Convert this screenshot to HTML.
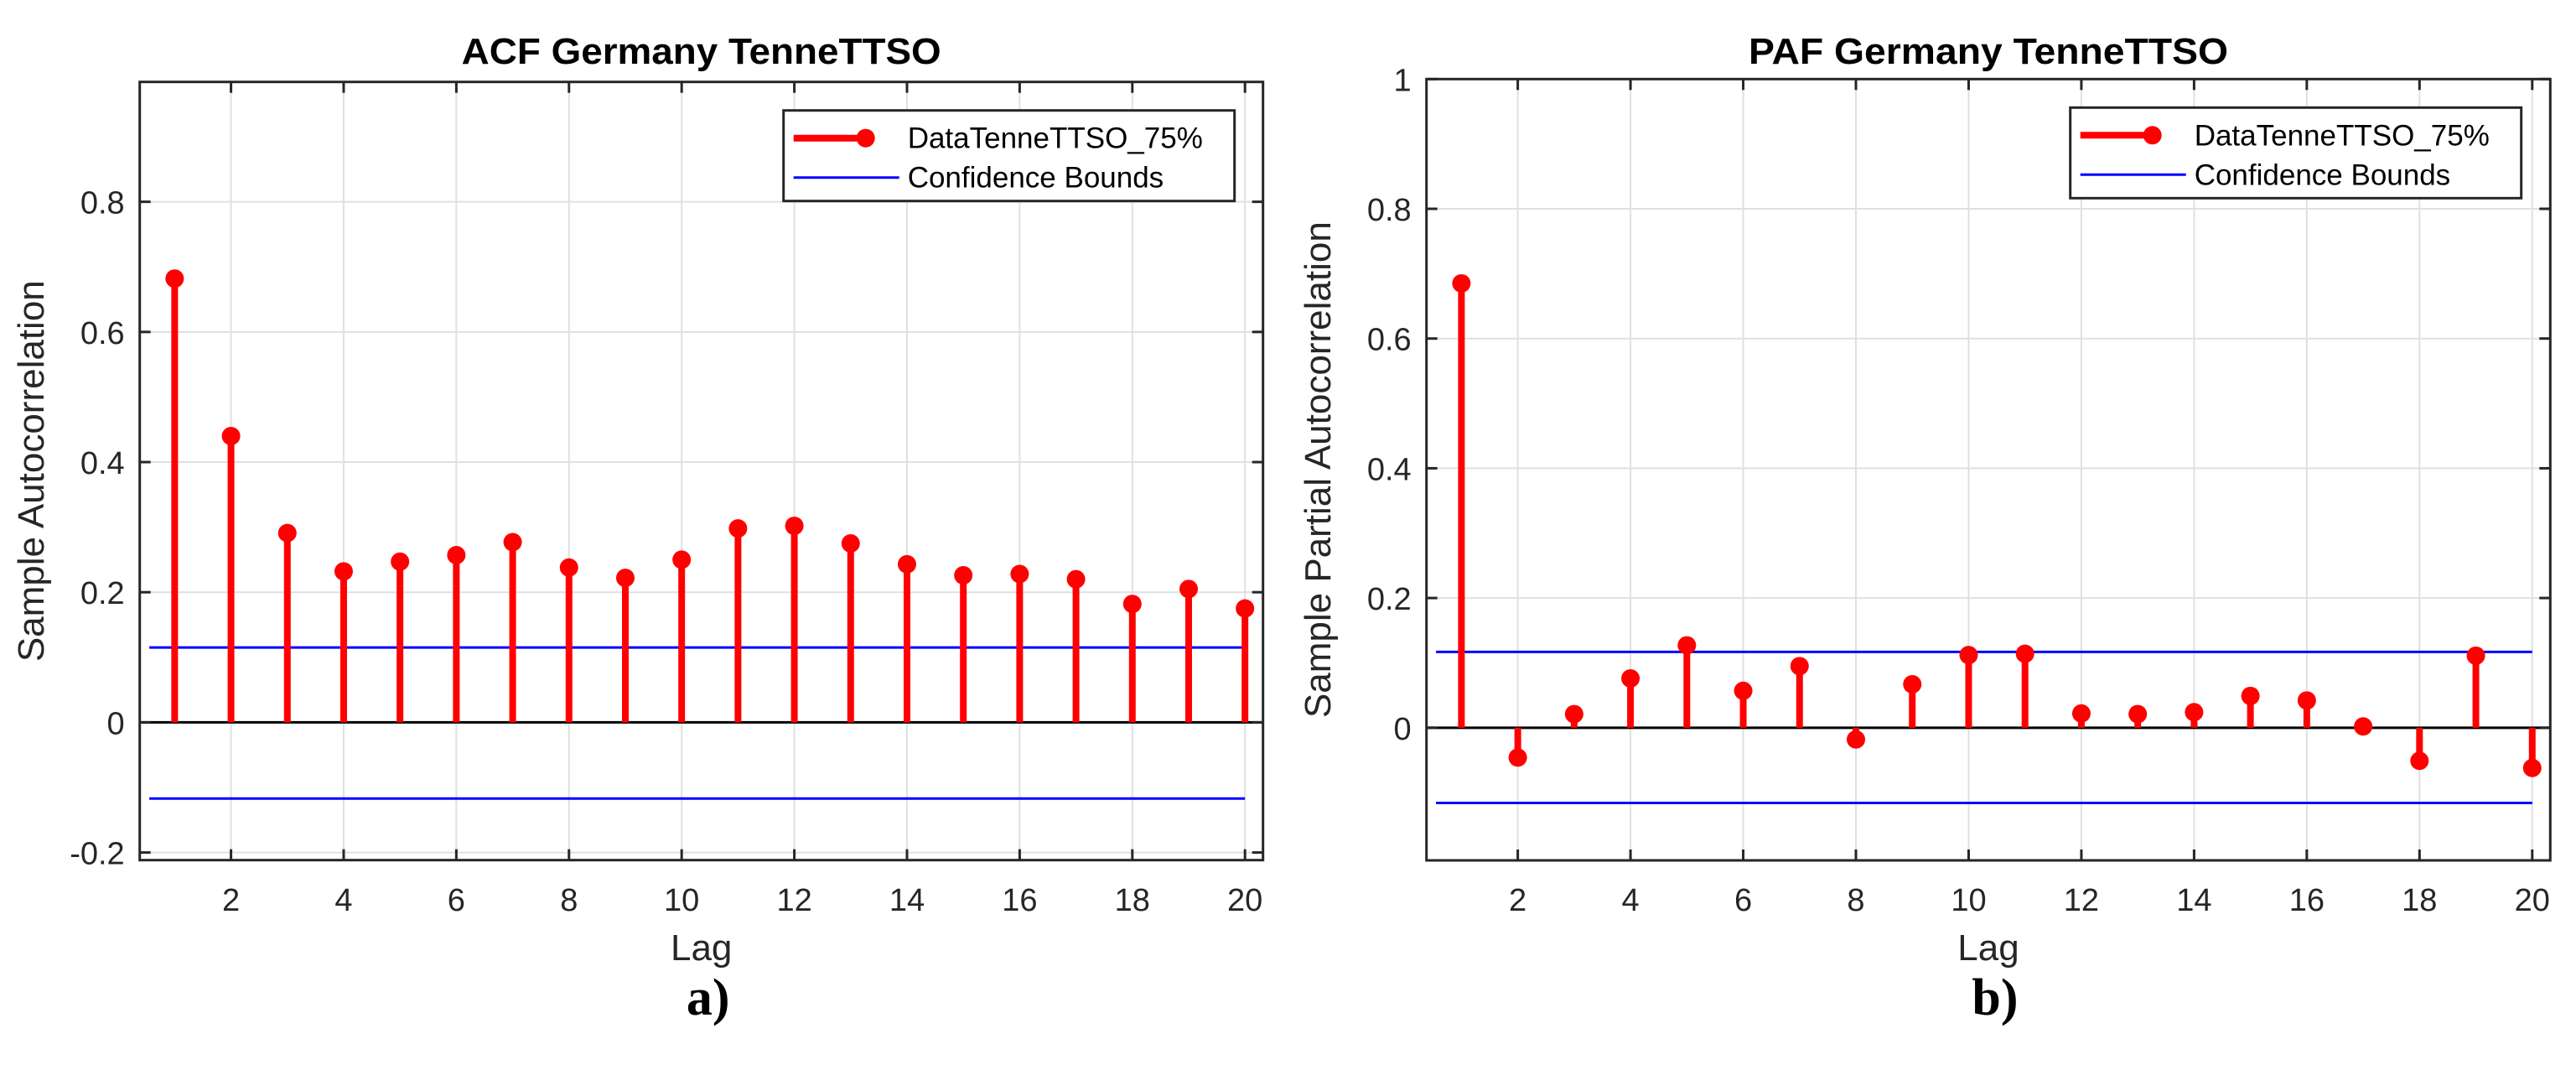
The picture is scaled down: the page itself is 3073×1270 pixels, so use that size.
<!DOCTYPE html>
<html><head><meta charset="utf-8"><style>
html,body{margin:0;padding:0;background:#fff;}
svg{display:block;}
text{font-family:"Liberation Sans",sans-serif;}
</style></head>
<body>
<svg id="fig" width="3073" height="1270" viewBox="0 0 3073 1270" xmlns="http://www.w3.org/2000/svg"></svg>
<script>
const lags = [1,2,3,4,5,6,7,8,9,10,11,12,13,14,15,16,17,18,19,20];
const acfValues = [0.682,0.440,0.291,0.232,0.247,0.257,0.277,0.238,0.222,0.250,0.298,0.302,0.275,0.243,0.226,0.228,0.220,0.182,0.205,0.175];
const pacfValues = [0.685,-0.046,0.021,0.076,0.127,0.057,0.095,-0.018,0.067,0.112,0.114,0.022,0.021,0.024,0.049,0.042,0.002,-0.051,0.111,-0.062];
const acfBound = [0.115,-0.117];
const pacfBound = [0.117,-0.116];
const xTickLabels = [2,4,6,8,10,12,14,16,18,20];
const acfYTicks = [-0.2,0,0.2,0.4,0.6,0.8];
const pacfYTicks = [0,0.2,0.4,0.6,0.8,1];

const NS = "http://www.w3.org/2000/svg";
const svg = document.getElementById('fig');
function mk(tag, attrs, parent, txt){
  const e = document.createElementNS(NS, tag);
  for (const k in attrs) e.setAttribute(k, attrs[k]);
  if (txt !== undefined) e.textContent = txt;
  (parent||svg).appendChild(e);
  return e;
}

function drawPanel(cfg){
  const g = mk('g', {});
  
  
  const L = cfg.left, R = cfg.right, T = cfg.top, B = cfg.bottom;
  const xmin = 0.38, xmax = 20.32;
  const X = v => L + (v - xmin) / (xmax - xmin) * (R - L);
  const Y = v => T + (cfg.ymax - v) / (cfg.ymax - cfg.ymin) * (B - T);

  // grid
  xTickLabels.forEach(t => {
    const gl = mk('line', {x1:X(t), x2:X(t), y1:T, y2:B, stroke:'#e0e0e0', 'stroke-width':2}, g);
    
    
  });
  cfg.yTicks.forEach(t => {
    const gl = mk('line', {x1:L, x2:R, y1:Y(t), y2:Y(t), stroke:'#e0e0e0', 'stroke-width':2}, g);
    
    
  });

  // confidence bounds
  cfg.bound.forEach(b => {
    const bl = mk('line', {x1:X(0.55), x2:X(20), y1:Y(b), y2:Y(b), stroke:'#0000ff', 'stroke-width':3}, g);
    
    
  });

  // zero line
  const z = mk('line', {x1:L, x2:R, y1:Y(0), y2:Y(0), stroke:'#000', 'stroke-width':3}, g);
  
  

  // stems
  cfg.values.forEach((v, i) => {
    const x = X(lags[i]);
    const s = mk('line', {x1:x, x2:x, y1:Y(0), y2:Y(v), stroke:'#ff0000', 'stroke-width':8}, g);
    
    
    const c = mk('circle', {cx:x, cy:Y(v), r:11, fill:'#ff0000'}, g);
    
    
  });

  // box
  const box = mk('rect', {x:L, y:T, width:R-L, height:B-T, fill:'none', stroke:'#262626', 'stroke-width':3}, g);
  
  

  // ticks
  xTickLabels.forEach(t => {
    mk('line', {x1:X(t), x2:X(t), y1:B, y2:B-13, stroke:'#262626', 'stroke-width':3}, g);
    mk('line', {x1:X(t), x2:X(t), y1:T, y2:T+13, stroke:'#262626', 'stroke-width':3}, g);
    const tl = mk('text', {x:X(t), y:1086, 'font-size':38, 'text-anchor':'middle', fill:'#262626'}, g, String(t));
    
    
  });
  cfg.yTicks.forEach(t => {
    mk('line', {x1:L, x2:L+13, y1:Y(t), y2:Y(t), stroke:'#262626', 'stroke-width':3}, g);
    mk('line', {x1:R, x2:R-13, y1:Y(t), y2:Y(t), stroke:'#262626', 'stroke-width':3}, g);
    const lab = (t === 0 || t === 1) ? String(t) : (t < 0 ? '-' + String(Math.abs(t)).replace(/^0/, '0') : String(t));
    const tl = mk('text', {x:L-18, y:Y(t)+14, 'font-size':38, 'text-anchor':'end', fill:'#262626'}, g, lab);
    
    
  });

  // title
  const cx = (L + R) / 2;
  const ti = mk('text', {x:cx, y:76, 'font-size':44, 'font-weight':'bold', 'text-anchor':'middle', fill:'#000', textLength:572, lengthAdjust:'spacingAndGlyphs'}, g, cfg.title);
  
  

  // x label
  const xl = mk('text', {x:cx, y:1145, 'font-size':44, 'text-anchor':'middle', fill:'#262626'}, g, 'Lag');
  
  

  // y label
  const ymid = (T + B) / 2;
  const yl = mk('text', {x:cfg.ylabX, y:ymid, 'font-size':44, 'text-anchor':'middle', fill:'#262626', transform:'rotate(-90 ' + cfg.ylabX + ' ' + ymid + ')'}, g, cfg.ylabel);
  
  

  // panel label
  const pl = mk('text', {x:cx+8, y:1210, 'font-size':62, 'font-weight':'bold', 'text-anchor':'middle', fill:'#000', style:'font-family:"Liberation Serif",serif'}, g, cfg.panel);
  
  

  // legend
  const lx = L + 768, ly = T + 34;
  const lg = mk('g', {}, g);
  
  
  mk('rect', {x:lx, y:ly, width:538, height:108, fill:'#fff', stroke:'#262626', 'stroke-width':3}, lg);
  const e1 = mk('g', {}, lg);
  
  
  mk('line', {x1:lx+12, x2:lx+98, y1:ly+33, y2:ly+33, stroke:'#ff0000', 'stroke-width':8}, e1);
  mk('circle', {cx:lx+98, cy:ly+33, r:11, fill:'#ff0000'}, e1);
  mk('text', {x:lx+148, y:ly+45, 'font-size':35, fill:'#000'}, e1, 'DataTenneTTSO_75%');
  const e2 = mk('g', {}, lg);
  
  
  mk('line', {x1:lx+12, x2:lx+138, y1:ly+80, y2:ly+80, stroke:'#0000ff', 'stroke-width':3}, e2);
  mk('text', {x:lx+148, y:ly+92, 'font-size':35, fill:'#000'}, e2, 'Confidence Bounds');
}

drawPanel({name:'acf-panel', left:166.7, right:1506.7, top:97.7, bottom:1025.7, ymin:-0.2117, ymax:0.9842,
  values:acfValues, bound:acfBound, yTicks:acfYTicks, title:'ACF Germany TenneTTSO',
  ylabel:'Sample Autocorrelation', ylabX:52, panel:'a)'});
drawPanel({name:'pacf-panel', left:1701.7, right:3042.3, top:94.3, bottom:1026, ymin:-0.2045, ymax:1,
  values:pacfValues, bound:pacfBound, yTicks:pacfYTicks, title:'PAF Germany TenneTTSO',
  ylabel:'Sample Partial Autocorrelation', ylabX:1587, panel:'b)'});
</script>
</body></html>
